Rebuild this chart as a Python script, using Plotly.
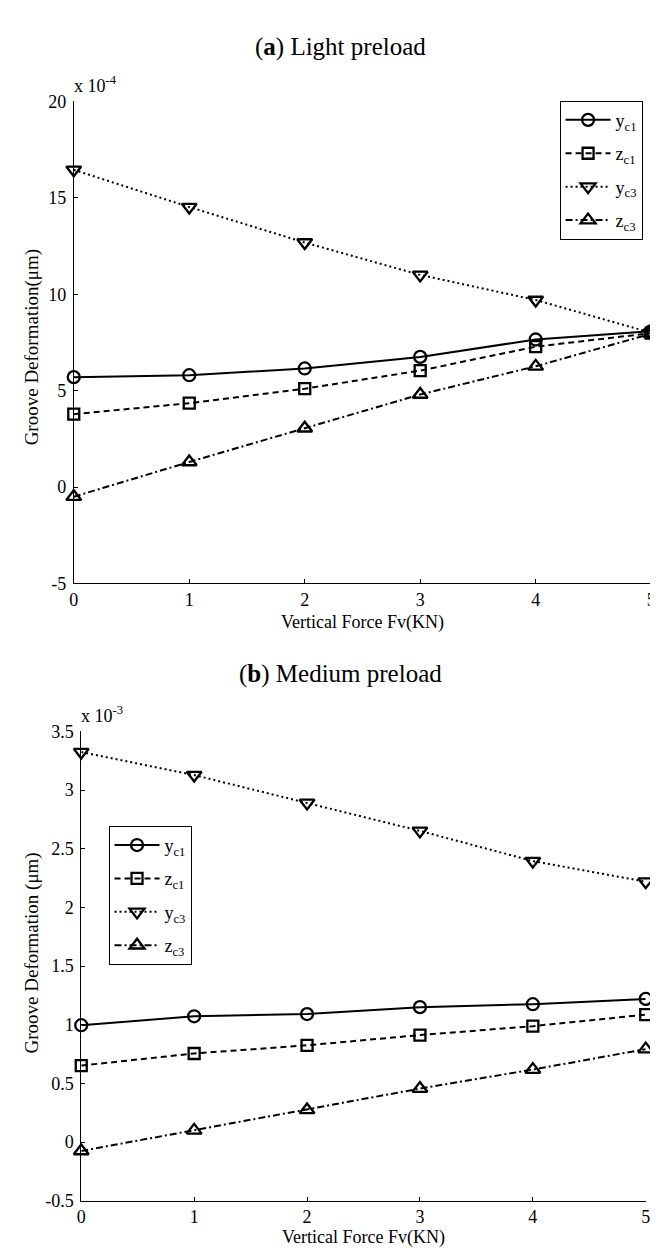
import plotly.graph_objects as go

# ---------------- data ----------------
force_kn = [0, 1, 2, 3, 4, 5]

# Panel (a) Light preload, values in units of 1e-4
light_scale_label = "x 10<sup>-4</sup>"
light_yc1 = [5.70, 5.80, 6.15, 6.75, 7.65, 8.08]
light_zc1 = [3.78, 4.35, 5.10, 6.04, 7.28, 7.98]
light_yc3 = [16.45, 14.52, 12.68, 11.00, 9.70, 8.00]
light_zc3 = [-0.50, 1.30, 3.05, 4.80, 6.26, 7.95]

# Panel (b) Medium preload, values in units of 1e-3
medium_scale_label = "x 10<sup>-3</sup>"
medium_yc1 = [0.996, 1.072, 1.091, 1.150, 1.175, 1.220]
medium_zc1 = [0.652, 0.755, 0.825, 0.912, 0.988, 1.086]
medium_yc3 = [3.324, 3.128, 2.890, 2.652, 2.395, 2.219]
medium_zc3 = [-0.076, 0.100, 0.274, 0.456, 0.618, 0.792]

series_names = ["y<sub>c1</sub>", "z<sub>c1</sub>", "y<sub>c3</sub>", "z<sub>c3</sub>"]

light_yticks = [-5, 0, 5, 10, 15, 20]
light_yticktext = ["-5", "0", "5", "10", "15", "20"]
medium_yticks = [-0.5, 0, 0.5, 1, 1.5, 2, 2.5, 3, 3.5]
medium_yticktext = ["-0.5", "0", "0.5", "1", "1.5", "2", "2.5", "3", "3.5"]
xticks = [0, 1, 2, 3, 4, 5]

# ---------------- styling ----------------
W, H = 658, 1249
FONT = "Liberation Serif"
styles = [
    dict(dash="solid", symbol="circle-open", size=12),
    dict(dash="6px,4px", symbol="square-open", size=11),
    dict(dash="2px,3px", symbol="triangle-down-open", size=13),
    dict(dash="7px,3px,2px,3px", symbol="triangle-up-open", size=13),
]


def px_x(p):
    return p / W


def px_y(p):
    return 1 - p / H


fig = go.Figure()

panels = [
    dict(xa="x", ya="y", legend="legend", tag="a",
         data=[light_yc1, light_zc1, light_yc3, light_zc3]),
    dict(xa="x2", ya="y2", legend="legend2", tag="b",
         data=[medium_yc1, medium_zc1, medium_yc3, medium_zc3]),
]

for p in panels:
    for i, (name, vals, st) in enumerate(zip(series_names, p["data"], styles)):
        fig.add_trace(go.Scatter(
            x=force_kn, y=vals, name=name,
            xaxis=p["xa"], yaxis=p["ya"], legend=p["legend"],
            legendgroup=f"{p['tag']}{i}",
            mode="lines+markers", cliponaxis=False,
            line=dict(color="black", width=2, dash=st["dash"]),
            marker=dict(symbol=st["symbol"], size=st["size"], color="black",
                        line=dict(color="black", width=2.3)),
        ))

axis_common = dict(
    showline=True, linecolor="black", linewidth=1, mirror=False,
    showgrid=False, zeroline=False, ticks="inside", ticklen=4,
    tickcolor="black", tickwidth=1,
    tickfont=dict(family=FONT, size=18, color="black"),
    fixedrange=True,
)

# panel geometry (pixels)
A_X0, A_X1, A_YT, A_YB = 61.7, 648.0, 84.7, 574.7
B_X0, B_X1, B_YT, B_YB = 69.3, 642.5, 725.0, 1202.0

legend_common = dict(
    xanchor="left", yanchor="top",
    bordercolor="black", borderwidth=1, bgcolor="white",
    font=dict(family=FONT, size=18, color="black"),
    itemwidth=45, tracegroupgap=7,
)

fig.update_layout(
    width=W, height=H,
    margin=dict(l=0, r=0, t=0, b=0),
    paper_bgcolor="white", plot_bgcolor="white",
    font=dict(family=FONT, color="black"),
    xaxis=dict(domain=[px_x(A_X0), px_x(A_X1)], range=[0, 5], anchor="y",
               tickvals=xticks, ticklabelstandoff=0, **axis_common),
    yaxis=dict(domain=[px_y(A_YB), px_y(A_YT)], range=[-5, 20], anchor="x",
               tickvals=light_yticks, ticktext=light_yticktext,
               ticklabelstandoff=3, **axis_common),
    xaxis2=dict(domain=[px_x(B_X0), px_x(B_X1)], range=[0, 5], anchor="y2",
                tickvals=xticks, ticklabelstandoff=0, **axis_common),
    yaxis2=dict(domain=[px_y(B_YB), px_y(B_YT)], range=[-0.5, 3.5], anchor="x2",
                tickvals=medium_yticks, ticktext=medium_yticktext,
                ticklabelstandoff=3, **axis_common),
    legend=dict(x=px_x(555), y=px_y(84), **legend_common),
    legend2=dict(x=px_x(97), y=px_y(821), **legend_common),
    showlegend=True,
)

ann = []
# panel titles
ann.append(dict(text="(<b>a</b>) Light preload", x=px_x(333), y=px_y(29),
                xref="paper", yref="paper", xanchor="center", yanchor="middle",
                showarrow=False, font=dict(family=FONT, size=25, color="black")))
ann.append(dict(text="(<b>b</b>) Medium preload", x=px_x(333), y=px_y(667),
                xref="paper", yref="paper", xanchor="center", yanchor="middle",
                showarrow=False, font=dict(family=FONT, size=25, color="black")))
# exponent labels
ann.append(dict(text=light_scale_label, x=px_x(A_X0 - 2), y=px_y(A_YT - 3),
                xref="paper", yref="paper", xanchor="left", yanchor="bottom",
                showarrow=False, font=dict(family=FONT, size=18, color="black")))
ann.append(dict(text=medium_scale_label, x=px_x(B_X0 - 2), y=px_y(B_YT - 3),
                xref="paper", yref="paper", xanchor="left", yanchor="bottom",
                showarrow=False, font=dict(family=FONT, size=18, color="black")))
# axis titles
ann.append(dict(text="Vertical Force Fv(KN)", x=px_x((A_X0 + A_X1) / 2), y=px_y(614),
                xref="paper", yref="paper", xanchor="center", yanchor="middle",
                showarrow=False, font=dict(family=FONT, size=18, color="black")))
ann.append(dict(text="Vertical Force Fv(KN)", x=px_x((B_X0 + B_X1) / 2), y=px_y(1239),
                xref="paper", yref="paper", xanchor="center", yanchor="middle",
                showarrow=False, font=dict(family=FONT, size=18, color="black")))
ann.append(dict(text="Groove Deformation(μm)", x=px_x(19), y=px_y(335),
                xref="paper", yref="paper", xanchor="center", yanchor="middle",
                textangle=-90, showarrow=False,
                font=dict(family=FONT, size=19, color="black")))
ann.append(dict(text="Groove Deformation (μm)", x=px_x(19), y=px_y(950),
                xref="paper", yref="paper", xanchor="center", yanchor="middle",
                textangle=-90, showarrow=False,
                font=dict(family=FONT, size=19, color="black")))
fig.update_layout(annotations=ann)

fig.write_html("out.html")
